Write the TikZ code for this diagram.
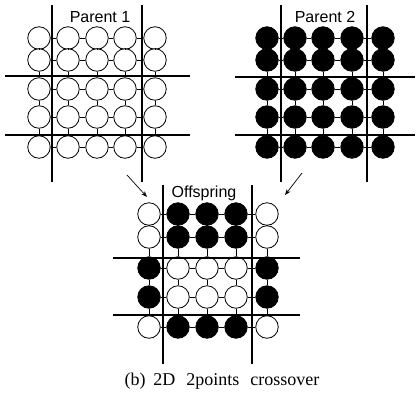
\documentclass[tikz,border=0pt]{standalone}
\usepackage{fontspec}
\setmainfont{Liberation Serif}
\setsansfont{Liberation Sans}
\usetikzlibrary{arrows.meta}

% connectors between neighbouring cells of one 5x5 mesh
\newcommand\meshlinks[1]{%
  \foreach \r in {1,...,5}{
    \foreach \c in {1,...,4}{
      \pgfmathtruncatemacro\nc{\c+1}
      \draw[link] (#1-\r-\c) -- (#1-\r-\nc);
    }
  }
  \foreach \r in {1,...,4}{
    \foreach \c in {1,...,5}{
      \pgfmathtruncatemacro\nr{\r+1}
      \draw[link] (#1-\r-\c) -- (#1-\nr-\c);
    }
  }
}

\begin{document}
\begin{tikzpicture}[x=1pt,y=-1pt,
  cell/.style={circle,draw=black,line width=0.8pt,minimum size=22.5pt,inner sep=0pt,fill=white},
  dark/.style={fill=black},
  link/.style={line width=0.7pt},
  cut/.style={line width=1.4pt},
  title/.style={font=\sffamily\fontsize{16}{16}\selectfont,inner sep=0pt},
  pointer/.style={line width=0.7pt,-{Stealth[length=6pt,width=4.5pt]}}]

\useasboundingbox (0,0) rectangle (418,405);

% Parent 1: all cells white
\foreach \r/\y in {1/38,2/60,3/89,4/117,5/147}{
  \foreach \c/\x in {1/39,2/68,3/97,4/125,5/155}{
    \node[cell] (pa-\r-\c) at (\x,\y) {};
  }
}
\meshlinks{pa}

% Parent 2: all cells black
\foreach \r/\y in {1/38,2/60,3/89,4/117,5/147}{
  \foreach \c/\x in {1/267,2/295,3/323,4/352,5/383}{
    \node[cell,dark] (pb-\r-\c) at (\x,\y) {};
  }
}
\meshlinks{pb}

% Offspring: centre block from Parent 1, the rest from Parent 2
\foreach \r/\y/\mid in {1/214/0,2/237/0,3/268/1,4/297/1,5/327/0}{
  \foreach \c/\x in {1/149,2/178,3/207,4/236,5/267}{
    \pgfmathtruncatemacro\inner{(\c>1)&&(\c<5)}
    \ifnum\inner=\mid
      \node[cell] (of-\r-\c) at (\x,\y) {};
    \else
      \node[cell,dark] (of-\r-\c) at (\x,\y) {};
    \fi
  }
}
\meshlinks{of}

% crossover cut lines
\draw[cut] (52,5) -- (52,182);
\draw[cut] (142,5) -- (142,182);
\draw[cut] (5,76) -- (190,76);
\draw[cut] (5,135) -- (190,135);

\draw[cut] (281,5) -- (281,182);
\draw[cut] (367,5) -- (367,182);
\draw[cut] (235,77) -- (415,77);
\draw[cut] (235,135) -- (415,135);

\draw[cut] (163,185) -- (163,364);
\draw[cut] (252,185) -- (252,364);
\draw[cut] (113,258) -- (300,258);
\draw[cut] (113,315) -- (300,315);

% titles
\node[title] (t1) at (100,17) {Parent 1};
\node[title] (t2) at (325,17) {Parent 2};
\node[title] (t3) at (204,193) {Offspring};

% arrows into the offspring
\coordinate (a1s) at (127,175);
\coordinate (a1e) at (147,197);
\coordinate (a2s) at (302,173);
\coordinate (a2e) at (285,195);
\draw[pointer] (a1s) -- (a1e);
\draw[pointer] (a2s) -- (a2e);

% caption
\node[font=\fontsize{18}{18}\selectfont,inner sep=0pt] (cap) at (222,381)
  {(b)\hspace{8pt}2D\hspace{11pt}2points\hspace{11pt}crossover};
\end{tikzpicture}
\end{document}
